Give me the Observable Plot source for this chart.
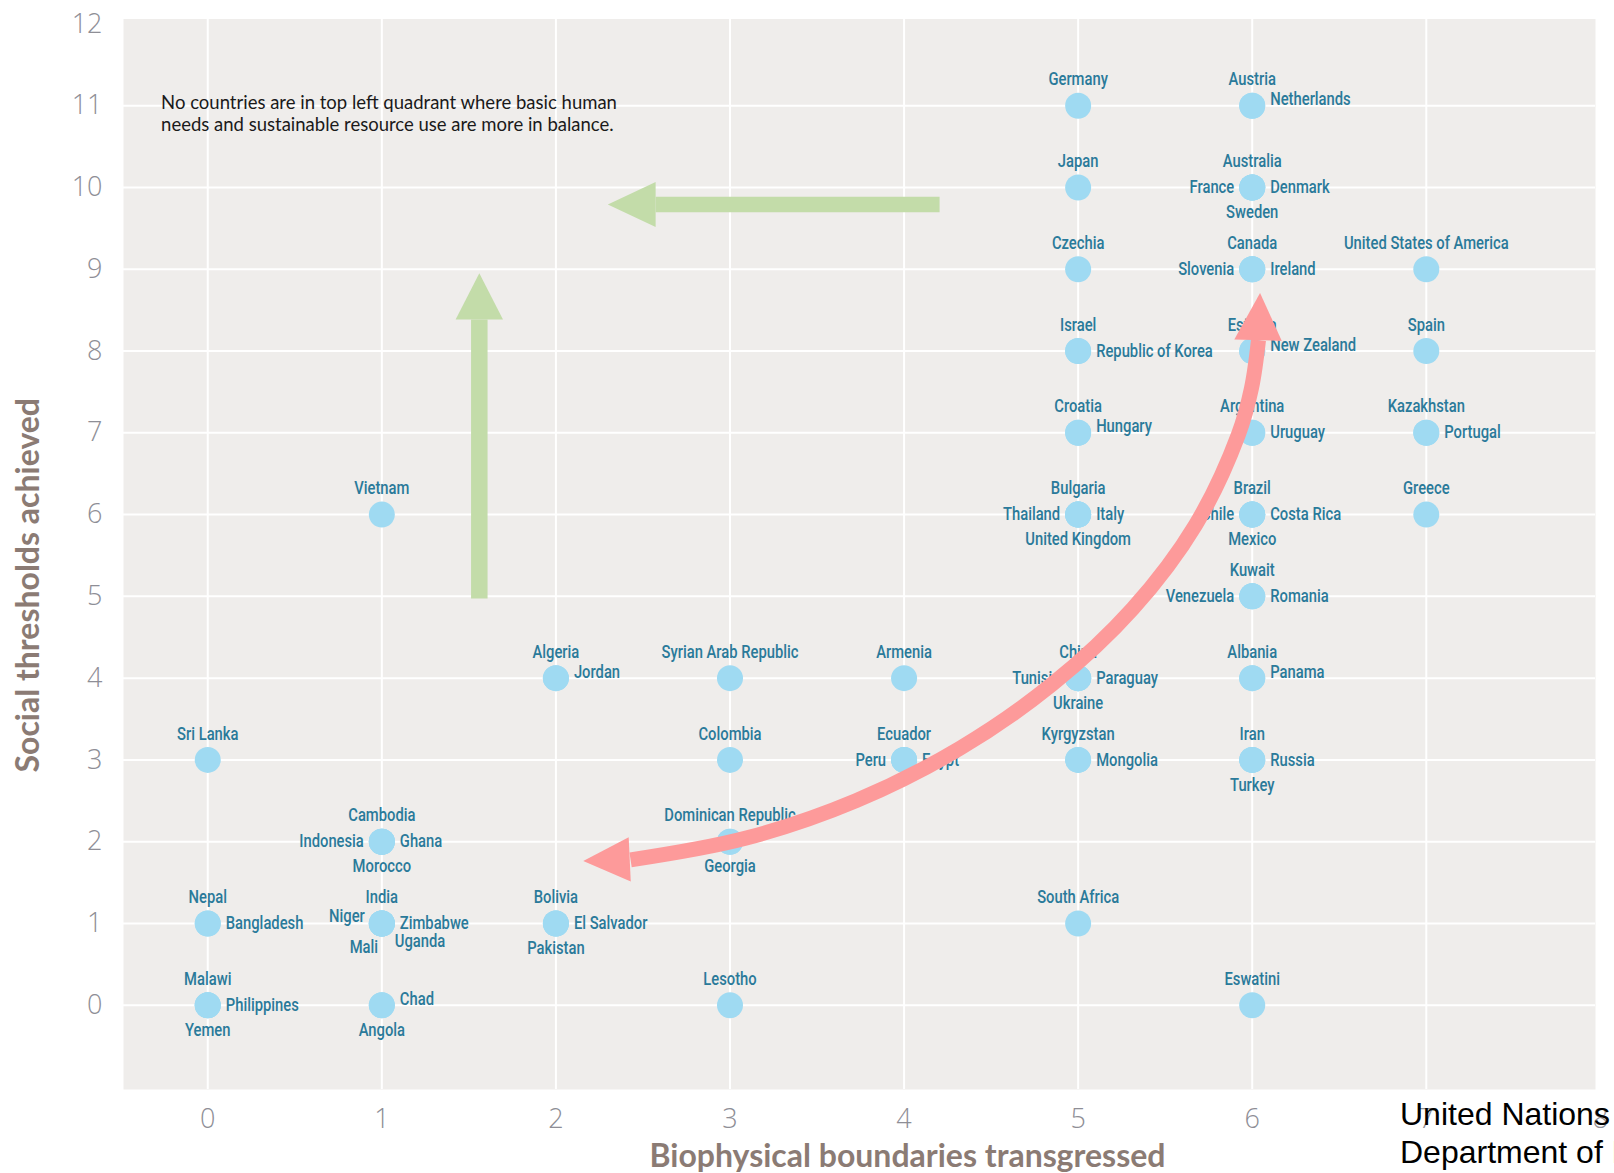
<!DOCTYPE html>
<html>
<head>
<meta charset="utf-8">
<script src="https://cdn.jsdelivr.net/npm/d3@7"></script>
<script src="https://cdn.jsdelivr.net/npm/@observablehq/plot@0.6"></script>
<style>
  html, body { margin: 0; padding: 0; background: #ffffff; overflow: hidden; }
  #wrap { position: relative; width: 1614px; height: 1173px; }
  #chart svg { display: block; }
  .tick-label text { font-family: "Open Sans", Lato, sans-serif; font-weight: 300; }
  #source {
    position: absolute; left: 1400px; top: 1095px;
    font-family: "Liberation Sans", Arial, sans-serif; font-size: 32px; line-height: 38px;
    color: #000; white-space: nowrap;
  }
</style>
</head>
<body>
<div id="wrap">
  <div id="chart"></div>
  <div id="source">United Nations<br>Department of Economic and Social Affairs</div>
</div>
<script>
// ---------------- DATA ----------------
const countryNames = [
  "Sri Lanka","Nepal","Bangladesh","Malawi","Philippines","Yemen",
  "Vietnam","Cambodia","Indonesia","Ghana","Morocco","India","Niger","Zimbabwe","Mali","Uganda","Chad","Angola",
  "Algeria","Jordan","Bolivia","El Salvador","Pakistan",
  "Syrian Arab Republic","Colombia","Dominican Republic","Georgia","Lesotho",
  "Armenia","Ecuador","Peru","Egypt",
  "Germany","Japan","Czechia","Israel","Republic of Korea","Croatia","Hungary","Bulgaria","Thailand","Italy",
  "United Kingdom","China","Tunisia","Paraguay","Ukraine","Kyrgyzstan","Mongolia","South Africa",
  "Austria","Netherlands","Australia","France","Denmark","Sweden","Canada","Slovenia","Ireland","Estonia",
  "New Zealand","Argentina","Uruguay","Brazil","Chile","Costa Rica","Mexico","Kuwait","Venezuela","Romania",
  "Albania","Panama","Iran","Russia","Turkey","Eswatini",
  "United States of America","Spain","Kazakhstan","Portugal","Greece"
];
// Biophysical boundaries transgressed
const boundariesTransgressed = [
  0,0,0,0,0,0,
  1,1,1,1,1,1,1,1,1,1,1,1,
  2,2,2,2,2,
  3,3,3,3,3,
  4,4,4,4,
  5,5,5,5,5,5,5,5,5,5,
  5,5,5,5,5,5,5,5,
  6,6,6,6,6,6,6,6,6,6,
  6,6,6,6,6,6,6,6,6,6,
  6,6,6,6,6,6,
  7,7,7,7,7
];
// Social thresholds achieved
const thresholdsAchieved = [
  3,1,1,0,0,0,
  6,2,2,2,2,1,1,1,1,1,0,0,
  4,4,1,1,1,
  4,3,2,2,0,
  4,3,3,3,
  11,10,9,8,8,7,7,6,6,6,
  6,4,4,4,4,3,3,1,
  11,11,10,10,10,10,9,9,9,8,
  8,7,7,6,6,6,6,5,5,5,
  4,4,3,3,3,0,
  9,8,7,7,6
];

// Label placement groups (names only)
const labelsAbove = ["Sri Lanka","Nepal","Malawi","Vietnam","Cambodia","India","Bolivia","Algeria",
  "Syrian Arab Republic","Colombia","Dominican Republic","Lesotho","Armenia","Ecuador","Germany","Japan",
  "Czechia","Israel","Croatia","Bulgaria","China","Kyrgyzstan","South Africa","Austria","Australia","Canada",
  "Estonia","Argentina","Brazil","Kuwait","Albania","Iran","Eswatini","United States of America","Spain",
  "Kazakhstan","Greece"];
const labelsRight = ["Bangladesh","Philippines","Ghana","Zimbabwe","El Salvador","Egypt","Republic of Korea",
  "Italy","Paraguay","Mongolia","Denmark","Ireland","Uruguay","Costa Rica","Romania","Russia","Portugal"];
const labelsRightRaised = ["Chad","Jordan","Hungary","Netherlands","New Zealand","Panama"];
const labelsLeft = ["Indonesia","Peru","Thailand","Tunisia","France","Slovenia","Chile","Venezuela"];
const labelsLeftRaised = ["Niger"];
const labelsBelow = ["Yemen","Morocco","Angola","Pakistan","Georgia","United Kingdom","Ukraine","Sweden","Mexico","Turkey"];
const labelsBelowLeft = ["Mali"];
const labelsBelowRight = ["Uganda"];

// Annotation arrows (data units)
const greenLeftShaft = [{x: 4.204, y: 9.792}, {x: 2.573, y: 9.792}];
const greenLeftHead = [{x: 2.298, y: 9.792}, {x: 2.573, y: 10.068}, {x: 2.573, y: 9.516}];
const greenUpShaft = [{x: 1.560, y: 4.974}, {x: 1.560, y: 8.386}];
const greenUpHead = [{x: 1.560, y: 8.951}, {x: 1.424, y: 8.386}, {x: 1.696, y: 8.386}];
const redCurve = [
  {x: 2.429, y: 1.777}, {x: 3.088, y: 2.041}, {x: 3.725, y: 2.502}, {x: 4.320, y: 3.141},
  {x: 4.853, y: 3.929}, {x: 5.313, y: 4.848}, {x: 5.674, y: 5.872}, {x: 5.920, y: 6.975},
  {x: 5.996, y: 7.548}, {x: 6.036, y: 8.133}
];
const redHeadTop = [{x: 6.045, y: 8.710}, {x: 5.897, y: 8.142}, {x: 6.170, y: 8.124}];
const redHeadBottom = [{x: 2.157, y: 1.764}, {x: 2.418, y: 2.056}, {x: 2.430, y: 1.514}];

const xTicks = [0, 1, 2, 3, 4, 5, 6, 7, 8];
const yTicks = [0, 1, 2, 3, 4, 5, 6, 7, 8, 9, 10, 11, 12];
const xGrid = [0, 1, 2, 3, 4, 5, 6, 7];
const yGrid = [0, 1, 2, 3, 4, 5, 6, 7, 8, 9, 10, 11];

const noteText = "No countries are in top left quadrant where basic human\nneeds and sustainable resource use are more in balance.";
const xTitle = "Biophysical boundaries transgressed";
const yTitle = "Social thresholds achieved";

// ---------------- BUILD ----------------
const countries = countryNames.map((name, i) => ({
  name, x: boundariesTransgressed[i], y: thresholdsAchieved[i]
}));
const byName = new Map(countries.map(d => [d.name, d]));
const pick = names => names.map(n => byName.get(n));

const labelFont = "'Liberation Sans Narrow', Roboto, sans-serif";
const labelColor = "#2a7a9a";
const labelSize = 17.5;
const labelMark = (names, dx, dy, textAnchor) => Plot.text(pick(names), {
  x: "x", y: "y", text: "name", dx, dy, textAnchor, className: "country-label",
  fill: labelColor, fontSize: labelSize, fontWeight: 500, fontFamily: labelFont
});

const red = "#fd9a9a";
const green = "#c3dca9";
const titleColor = "#8b7b74";

const chart = Plot.plot({
  width: 1614,
  height: 1173,
  marginLeft: 123,
  marginRight: 19,
  marginTop: 18.5,
  marginBottom: 84,
  style: {background: "transparent", color: "#8e8e96", fontFamily: "'Open Sans', Lato, sans-serif"},
  x: {domain: [-0.484, 7.972]},
  y: {domain: [-1.03, 12.06]},
  marks: [
    Plot.frame({fill: "#efedeb", stroke: "none"}),
    Plot.gridX(xGrid, {stroke: "#ffffff", strokeOpacity: 1, strokeWidth: 2}),
    Plot.gridY(yGrid, {stroke: "#ffffff", strokeOpacity: 1, strokeWidth: 2}),
    // green arrows
    Plot.line(greenLeftShaft, {x: "x", y: "y", stroke: green, strokeWidth: 15.5, strokeLinecap: "butt"}),
    Plot.line(greenLeftHead, {x: "x", y: "y", fill: green, stroke: "none"}),
    Plot.line(greenUpShaft, {x: "x", y: "y", stroke: green, strokeWidth: 16.5, strokeLinecap: "butt"}),
    Plot.line(greenUpHead, {x: "x", y: "y", fill: green, stroke: "none"}),
    // points
    Plot.dot(countries, {x: "x", y: "y", r: 13, fill: "#9fdaf2", stroke: "none"}),
    // labels
    labelMark(labelsAbove, 0, -26, "middle"),
    labelMark(labelsRight, 18, 0, "start"),
    labelMark(labelsRightRaised, 18, -6, "start"),
    labelMark(labelsLeft, -18, 0, "end"),
    labelMark(labelsLeftRaised, -17, -7, "end"),
    labelMark(labelsBelow, 0, 25, "middle"),
    labelMark(labelsBelowLeft, -18, 24, "middle"),
    labelMark(labelsBelowRight, 13, 18, "start"),
    // red curved arrow
    Plot.line(redCurve, {x: "x", y: "y", curve: "catmull-rom", stroke: red, strokeWidth: 15, strokeLinecap: "butt"}),
    Plot.line(redHeadTop, {x: "x", y: "y", fill: red, stroke: "none"}),
    Plot.line(redHeadBottom, {x: "x", y: "y", fill: red, stroke: "none"}),
    // note
    Plot.text([noteText], {
      frameAnchor: "top-left", dx: 37.6, dy: 93.75, textAnchor: "start", lineAnchor: "middle",
      lineHeight: 1.22, fontSize: 18.5, fill: "#1a1a1a", fontFamily: "Lato, 'Open Sans', sans-serif"
    }),
    // axes
    Plot.axisX(xTicks, {tickSize: 0, tickPadding: 19, fontSize: 27, className: "tick-label", label: null, tickFormat: d => String(d)}),
    Plot.axisY(yTicks, {tickSize: 0, tickPadding: 21, fontSize: 27, className: "tick-label", label: null, tickFormat: d => String(d)}),
    // axis titles
    Plot.text([xTitle], {
      frameAnchor: "bottom", dx: 48, dy: 77, lineAnchor: "bottom", textAnchor: "middle",
      fontSize: 32, fontWeight: "bold", fill: titleColor, fontFamily: "Lato, 'Open Sans', sans-serif"
    }),
    Plot.text([yTitle], {
      frameAnchor: "left", dx: -85, dy: 31, rotate: -90, lineAnchor: "bottom", textAnchor: "middle",
      fontSize: 32, fontWeight: "bold", fill: titleColor, fontFamily: "Lato, 'Open Sans', sans-serif"
    })
  ]
});
document.getElementById("chart").appendChild(chart);

// Condense the country labels to match the narrow face of the original
(function condense() {
  const texts = Array.from(chart.querySelectorAll(".country-label text"));
  const ref = texts.find(t => t.textContent === "United States of America");
  if (!ref) return;
  const factor = Math.min(1, 164.7 / ref.getComputedTextLength());
  if (factor >= 0.99) return;
  for (const t of texts) {
    const w = t.getComputedTextLength();
    t.setAttribute("textLength", (w * factor).toFixed(2));
    t.setAttribute("lengthAdjust", "spacingAndGlyphs");
  }
})();
</script>
</body>
</html>
